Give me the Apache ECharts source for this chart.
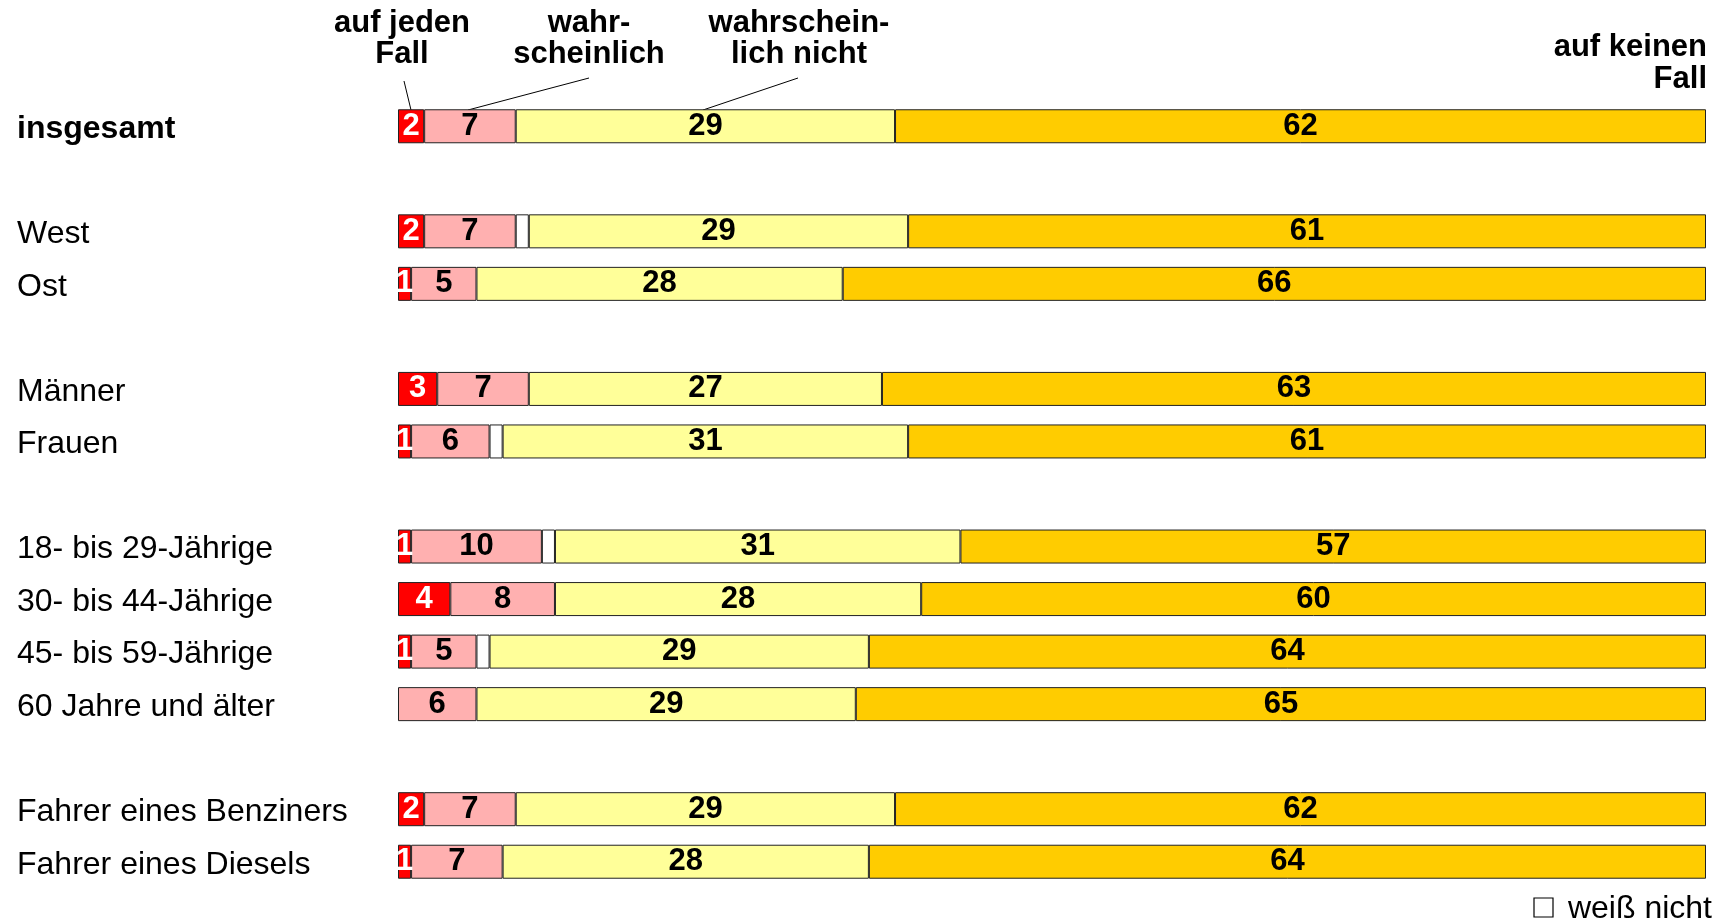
<!DOCTYPE html>
<html>
<head>
<meta charset="utf-8">
<script src="https://cdn.jsdelivr.net/npm/echarts@6/dist/echarts.min.js"></script>
<style>
  html, body { margin: 0; padding: 0; background: #fff; }
  #main { width: 1714px; height: 922px; }
</style>
</head>
<body>
<div id="main"></div>
<script>
// Kategorien ('' = Leerzeile zwischen den Gruppen)
const categories = ['insgesamt', '', 'West', 'Ost', '', 'Männer', 'Frauen', '',
  '18- bis 29-Jährige', '30- bis 44-Jährige', '45- bis 59-Jährige', '60 Jahre und älter', '',
  'Fahrer eines Benziners', 'Fahrer eines Diesels']

// Werte in Prozent
const aufJedenFall        = [2, null, 2, 1, null, 3, 1, null, 1, 4, 1, 0, null, 2, 1]
const wahrscheinlich      = [7, null, 7, 5, null, 7, 6, null, 10, 8, 5, 6, null, 7, 7]
const weissNicht          = [0, null, 1, 0, null, 0, 1, null, 1, 0, 1, 0, null, 0, 0]
const wahrscheinlichNicht = [29, null, 29, 28, null, 27, 31, null, 31, 28, 29, 29, null, 29, 28]
const aufKeinenFall       = [62, null, 61, 66, null, 63, 61, null, 57, 60, 64, 65, null, 62, 64]

const FONT = '"Liberation Sans", Arial, Helvetica, sans-serif'

// 0 und Leerzeilen nicht zeichnen
const clean = arr => arr.map(v => (v ? v : '-'))

function barSeries(name, data, color, labelColor, showLabel) {
    return {
        name: name,
        type: 'bar',
        stack: 'total',
        barWidth: 34,
        data: clean(data),
        itemStyle: { color: color, borderColor: '#222', borderWidth: 1 },
        label: {
            show: showLabel,
            position: 'inside',
            color: labelColor,
            fontFamily: FONT,
            fontWeight: 'bold',
            fontSize: 31
        },
        emphasis: { disabled: true },
        silent: true
    }
}

const myChart = echarts.init(document.getElementById('main'))

const option = {
    animation: false,
    backgroundColor: '#fff',
    grid: { left: 398, right: 8, top: 100, height: 788, containLabel: false },
    xAxis: { type: 'value', min: 0, max: 100, show: false },
    yAxis: {
        type: 'category',
        inverse: true,
        data: categories,
        axisLine: { show: false },
        axisTick: { show: false },
        axisLabel: {
            align: 'left',
            margin: 381,
            color: '#000',
            fontFamily: FONT,
            fontSize: 32,
            padding: [6, 0, 0, 0],
            formatter: v => (v === 'insgesamt' ? '{b|' + v + '}' : v),
            rich: { b: { fontFamily: FONT, fontSize: 32, fontWeight: 'bold', color: '#000' } }
        }
    },
    series: [
        barSeries('auf jeden Fall', aufJedenFall, '#ff0000', '#fff', true),
        barSeries('wahrscheinlich', wahrscheinlich, '#ffb0b0', '#000', true),
        barSeries('weiß nicht', weissNicht, '#ffffff', '#000', false),
        barSeries('wahrscheinlich nicht', wahrscheinlichNicht, '#ffff99', '#000', true),
        barSeries('auf keinen Fall', aufKeinenFall, '#ffcc00', '#000', true)
    ],
    graphic: [
        // Kopfzeile
        { type: 'text', x: 402, y: 39, style: { text: 'auf jeden\nFall', align: 'center', verticalAlign: 'middle', lineHeight: 31, font: 'bold 31px ' + FONT, fill: '#000' } },
        { type: 'text', x: 589, y: 39, style: { text: 'wahr-\nscheinlich', align: 'center', verticalAlign: 'middle', lineHeight: 31, font: 'bold 31px ' + FONT, fill: '#000' } },
        { type: 'text', x: 799, y: 39, style: { text: 'wahrschein-\nlich nicht', align: 'center', verticalAlign: 'middle', lineHeight: 31, font: 'bold 31px ' + FONT, fill: '#000' } },
        { type: 'text', x: 1707, y: 63, style: { text: 'auf keinen\nFall', align: 'right', verticalAlign: 'middle', lineHeight: 32, font: 'bold 31px ' + FONT, fill: '#000' } },
        // Hinweislinien
        { type: 'line', shape: { x1: 404, y1: 81, x2: 411, y2: 110 }, style: { stroke: '#000', lineWidth: 1 } },
        { type: 'line', shape: { x1: 589, y1: 78, x2: 468, y2: 110 }, style: { stroke: '#000', lineWidth: 1 } },
        { type: 'line', shape: { x1: 798, y1: 78, x2: 703, y2: 110 }, style: { stroke: '#000', lineWidth: 1 } },
        // weiß nicht
        { type: 'rect', shape: { x: 1534, y: 898, width: 19, height: 19 }, style: { fill: '#fff', stroke: '#000', lineWidth: 1.2 } },
        { type: 'text', x: 1712, y: 909, style: { text: 'weiß nicht', align: 'right', verticalAlign: 'middle', font: '32px ' + FONT, fill: '#000' } }
    ]
}

myChart.setOption(option)
</script>
</body>
</html>
